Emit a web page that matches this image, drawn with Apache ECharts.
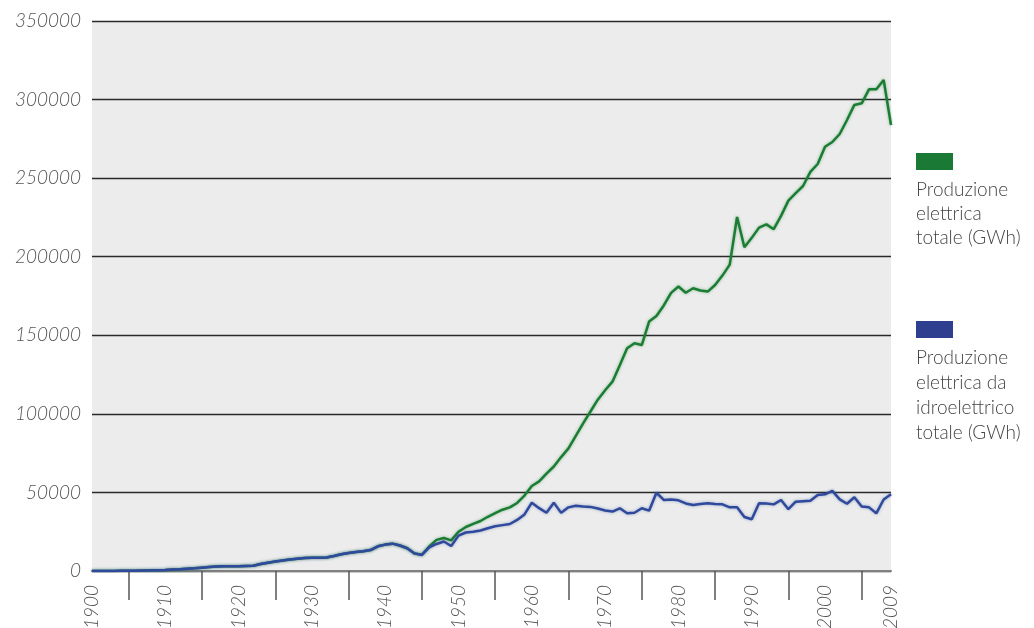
<!DOCTYPE html>
<html>
<head>
<meta charset="utf-8">
<title>Produzione elettrica</title>
<script src="https://cdn.jsdelivr.net/npm/echarts@6/dist/echarts.min.js"></script>
<style>
  html, body { margin: 0; padding: 0; background: #fff; }
  #chart { width: 1034px; height: 628px; }
</style>
</head>
<body>
<div id="chart"></div>
<script>
// years 1900..2009
const years = [];
for (let y = 1900; y <= 2009; y++) years.push(y);

// Produzione elettrica totale (GWh)
const totalValues = [
  0, 0, 0, 0, 100, 150, 200, 300, 400, 550,
  700, 900, 1100, 1400, 1700, 2100, 2500, 2800, 3000, 3100,
  3100, 3200, 3300, 4400, 5300, 6000, 6700, 7300, 7800, 8300,
  8500, 8500, 8600, 9600, 10700, 11500, 12100, 12600, 13300, 15700,
  16800, 17400, 16200, 14500, 11200, 10300, 15600, 19800, 21000, 19500,
  25000, 28000, 30000, 31800, 34500, 36800, 39000, 40500, 43300, 48000,
  54100, 57000, 62000, 66500, 72500, 78000, 86000, 94000, 101500, 109000,
  115000, 120500, 131000, 141700, 144900, 143800, 158700, 162300, 169000, 177000,
  181000, 177100, 179900, 178500, 177800, 182000, 188000, 195000, 225300, 206000,
  212000, 218500, 220600, 217500, 226000, 235700, 240400, 245000, 254000, 259000,
  270000, 273000, 278100, 287000, 296600, 297600, 306500, 306500, 312500, 283800
];

// Produzione elettrica da idroelettrico totale (GWh)
const hydroValues = [
  0, 0, 0, 0, 100, 150, 200, 300, 400, 550,
  700, 900, 1100, 1400, 1700, 2100, 2500, 2800, 3000, 3100,
  3100, 3200, 3300, 4400, 5300, 6000, 6700, 7300, 7800, 8300,
  8500, 8500, 8600, 9600, 10700, 11500, 12100, 12600, 13300, 15700,
  16800, 17400, 16200, 14500, 11200, 10200, 15000, 17200, 18800, 15900,
  22500, 24500, 25000, 25800, 27200, 28500, 29200, 29900, 32500, 36000,
  43500, 40000, 37100, 43500, 37000, 40500, 41500, 41000, 40800, 39800,
  38500, 37800, 39900, 36700, 37100, 39900, 38400, 49800, 45200, 45500,
  45000, 43000, 42000, 42600, 43100, 42600, 42400, 40500, 40600, 34400,
  32900, 43100, 42900, 42400, 45200, 39300, 44100, 44400, 44700, 48400,
  48800, 51000, 45600, 42800, 46900, 41000, 40500, 36700, 45500, 48800
];

const seriesNames = ['Produzione elettrica totale (GWh)', 'Produzione elettrica da idroelettrico totale (GWh)'];
const legendLines = [
  ['Produzione', 'elettrica', 'totale (GWh)'],
  ['Produzione', 'elettrica da', 'idroelettrico', 'totale (GWh)']
];
const xLabelValues = [1900, 1910, 1920, 1930, 1940, 1950, 1960, 1970, 1980, 1990, 2000, 2009];
const xTickValues = [1905, 1915, 1925, 1935, 1945, 1955, 1965, 1975, 1985, 1995, 2005];

const GREEN = '#1b7d33';
const BLUE = '#2f4a9c';
const FONT = 'Lato, "Open Sans", sans-serif';

function pairs(vals) {
  return years.map((y, i) => [y, vals[i]]);
}

const chart = echarts.init(document.getElementById('chart'));

chart.setOption({
  animation: false,
  backgroundColor: '#ffffff',
  grid: {
    left: 92, right: 143, top: 21, bottom: 57,
    outerBoundsMode: 'none',
    show: true, backgroundColor: '#ebeceb', borderWidth: 0
  },
  xAxis: {
    type: 'value',
    min: 1900,
    max: 2009,
    axisLine: { show: true, lineStyle: { color: '#808080', width: 2 } },
    axisTick: {
      show: true, inside: false, length: 29,
      customValues: xTickValues,
      lineStyle: { color: '#555', width: 1.5 }
    },
    axisLabel: {
      customValues: xLabelValues,
      rotate: 90,
      margin: 14,
      fontFamily: FONT,
      fontStyle: 'italic',
      fontWeight: 300,
      fontSize: 19,
      color: '#555',
      formatter: v => String(v)
    },
    splitLine: { show: false }
  },
  yAxis: {
    type: 'value',
    min: 0,
    max: 350000,
    interval: 50000,
    axisLine: { show: false },
    axisTick: { show: false },
    axisLabel: {
      margin: 11,
      fontFamily: FONT,
      fontStyle: 'italic',
      fontWeight: 300,
      fontSize: 19,
      color: '#555',
      formatter: v => String(v)
    },
    splitLine: { show: true, lineStyle: { color: '#2a2a2a', width: 1.3 } }
  },
  series: [
    {
      name: seriesNames[0],
      type: 'line',
      data: pairs(totalValues),
      showSymbol: false,
      lineStyle: { color: GREEN, width: 2.5, shadowColor: 'rgba(27,125,51,0.45)', shadowBlur: 3 },
      itemStyle: { color: GREEN },
      z: 2
    },
    {
      name: seriesNames[1],
      type: 'line',
      data: pairs(hydroValues),
      showSymbol: false,
      lineStyle: { color: BLUE, width: 2.5, shadowColor: 'rgba(47,74,156,0.45)', shadowBlur: 3 },
      itemStyle: { color: BLUE },
      z: 3
    }
  ],
  graphic: [
    { type: 'rect', left: 916, top: 153, shape: { width: 37, height: 17 }, style: { fill: '#1a7a35' } },
    {
      type: 'text', left: 916, top: 178,
      style: { text: legendLines[0].join('\n'), font: '300 19px ' + FONT, fill: '#444', lineHeight: 24 }
    },
    { type: 'rect', left: 916, top: 321, shape: { width: 37, height: 17 }, style: { fill: '#2f3f8f' } },
    {
      type: 'text', left: 916, top: 345,
      style: { text: legendLines[1].join('\n'), font: '300 19px ' + FONT, fill: '#444', lineHeight: 25 }
    }
  ]
});
</script>
</body>
</html>
